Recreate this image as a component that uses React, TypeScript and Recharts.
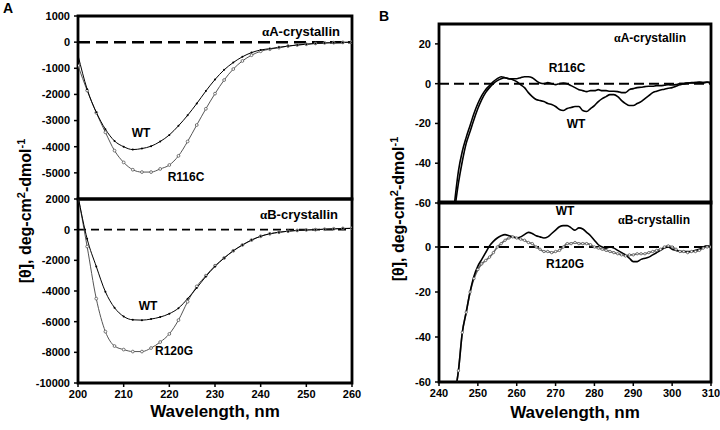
import React from "react";
import { LineChart, Line, XAxis, YAxis, ReferenceLine, ReferenceArea } from "recharts";

// Panel A: far-UV CD, 200-260 nm
const wlA = [200, 202, 204, 206, 208, 210, 212, 214, 216, 218, 220, 222, 224, 226, 228, 230, 232, 234, 236, 238, 240, 242, 244, 246, 248, 250, 252, 254, 256, 258, 260];
const aA_WT = [-500, -1800, -2680, -3330, -3780, -4000, -4110, -4070, -3980, -3800, -3550, -3200, -2800, -2350, -1870, -1430, -1060, -780, -560, -400, -300, -250, -200, -150, -110, -80, -50, -30, -20, -10, 0];
const aA_R116C = [-900, -1850, -2700, -3450, -4150, -4600, -4880, -4970, -4970, -4850, -4700, -4350, -3800, -3170, -2550, -1970, -1450, -1030, -720, -500, -350, -270, -210, -150, -110, -80, -50, -30, -20, -10, 0];
const aB_WT = [2200, -600, -2400, -4050, -5090, -5660, -5880, -5900, -5830, -5700, -5480, -5120, -4500, -3800, -3050, -2400, -1850, -1380, -1000, -680, -430, -270, -170, -100, -50, -20, 0, 30, 50, 70, 80];
const aB_R120G = [2200, -1100, -4500, -6650, -7590, -7820, -7950, -7950, -7720, -7330, -6800, -5900, -4700, -3700, -3000, -2350, -1850, -1380, -1000, -680, -430, -270, -170, -100, -50, -20, 0, 30, 60, 80, 100];

// Panel B: near-UV CD, 244-310 nm
const wlB = [244, 245, 246, 247, 248, 249, 250, 251, 252, 253, 254, 255, 256, 257, 258, 259, 260, 261, 262, 263, 264, 265, 266, 267, 268, 269, 270, 271, 272, 273, 274, 275, 276, 277, 278, 279, 280, 281, 282, 283, 284, 285, 286, 287, 288, 289, 290, 291, 292, 293, 294, 295, 296, 297, 298, 299, 300, 301, 302, 303, 304, 305, 306, 307, 308, 309, 310];
const nA_WT = [-60, -44, -34, -27, -21, -15, -10, -6, -3, -1, 1, 2.5, 3.5, 3, 2.5, 2, 1, -0.5, -2, -4.5, -6.5, -8, -8.5, -9, -10, -10.5, -11.5, -13, -13.5, -12.5, -12, -11.5, -11.5, -13.5, -14, -12.5, -11, -9, -7.5, -6.5, -5.5, -5.5, -6.5, -8.5, -10, -11, -11, -10, -9, -7.5, -6, -4.5, -3.8, -3.2, -2.8, -2.3, -2, -1.3, -0.6, 0, 0.3, 0.5, 0.5, 0.8, 0.5, 0.8, 0.5];
const nA_R116C = [-64, -50, -39, -30, -24, -18, -12.5, -8, -4.5, -2, 0, 1.5, 2.5, 3, 2.5, 2.5, 2.5, 3, 3.5, 3.5, 3, 1.5, 0.3, 0, 0.5, 0, -0.5, 0, 0.3, 0, -1, -2, -3, -3.5, -4, -3.5, -3.5, -3, -3.5, -3.5, -3.8, -3.8, -4, -4.5, -4.5, -3, -2.5, -2, -1.8, -1.5, -1.3, -1.3, -1, -1, -0.8, -0.5, -0.7, -0.5, 0, 0, 0.3, 0.3, 0.5, 0.5, 0.5, 0.7, 0.5];
const nB_WT = [-66, -55, -38, -29, -20, -13, -8.5, -5.5, -2.5, 0.5, 2.5, 4, 5, 5.5, 5, 4.5, 4, 4.5, 5.5, 6.5, 6, 5, 4.5, 4, 4.5, 6, 7.5, 9, 9.5, 9.5, 8.5, 7.5, 8.5, 8, 6.5, 5, 3, 1, 0, -0.5, 0, -0.5, -1.5, -2.5, -3.5, -5, -6.5, -6.5, -5.5, -5, -4.5, -3.5, -2.5, -1.5, -0.5, 0, -1, -1.5, -2, -2, -2, -2, -1.5, -1, 0, 0.5, 0];
const nB_R120G = [-66, -55, -38, -29, -20, -14, -10, -7.5, -6, -4.5, -2.5, 0, 1.5, 3, 4, 4.5, 4, 3.5, 3, 2, 1.5, 0, -1, -2, -2, -2.5, -2, -1.5, 0, 1.5, 1.5, 2, 1.5, 1.5, 1.5, 1, 0, -0.5, -1, -1.5, -2, -2.5, -3, -3.5, -4, -3.5, -3.5, -3, -3, -3, -2.5, -2, -1.5, -1, 0, 0.5, 0, -1, -2, -2, -2.5, -2, -2, -1.5, -0.5, 0, 0];

const ticksXA = [200, 210, 220, 230, 240, 250, 260];
const ticksXB = [240, 250, 260, 270, 280, 290, 300, 310];
const ticksA1 = [-5000, -4000, -3000, -2000, -1000, 0, 1000];
const ticksA2 = [-10000, -8000, -6000, -4000, -2000, 0, 2000];
const ticksB1 = [-60, -40, -20, 0, 20];
const ticksB2 = [-60, -40, -20, 0];

const FONT = "'Liberation Sans', Arial, sans-serif";
const tickStyle = { fill: "#000", fontSize: 11, fontWeight: 700, fontFamily: FONT };

const dataA1 = wlA.map((w, i) => ({ w, wt: aA_WT[i], mut: aA_R116C[i] }));
const dataA2 = wlA.map((w, i) => ({ w, wt: aB_WT[i], mut: aB_R120G[i] }));
const dataB1 = wlB.map((w, i) => ({ w, wt: nA_WT[i], mut: nA_R116C[i] }));
const dataB2 = wlB.map((w, i) => ({ w, wt: nB_WT[i], mut: nB_R120G[i] }));

type SubProps = {
  data: { w: number; wt: number; mut: number }[];
  xDomain: [number, number];
  yDomain: [number, number];
  xTicks: number[];
  yTicks: number[];
  showX: boolean;
  width: number;
  height: number;
  margin: { top: number; right: number; bottom: number; left: number };
  dash: string;
  dashWidth: number;
  farUV: boolean;
  mutDots: boolean;
};

function SubPlot(p: SubProps) {
  return (
    <LineChart width={p.width} height={p.height} data={p.data} margin={p.margin}>
      <XAxis
        dataKey="w"
        type="number"
        domain={p.xDomain}
        ticks={p.xTicks}
        allowDataOverflow
        hide={!p.showX}
        height={30}
        axisLine={false}
        tickLine={{ stroke: "#000", strokeWidth: 1.5 }}
        tickSize={4}
        tickMargin={3}
        tick={tickStyle}
        interval={0}
      />
      <YAxis
        type="number"
        domain={p.yDomain}
        ticks={p.yTicks}
        allowDataOverflow
        width={78}
        axisLine={false}
        tickLine={{ stroke: "#000", strokeWidth: 1.5 }}
        tickSize={4}
        tickMargin={4}
        tick={tickStyle}
        interval={0}
      />
      <ReferenceLine y={0} stroke="#000" strokeWidth={p.dashWidth} strokeDasharray={p.dash} />
      <Line
        dataKey="mut"
        type="monotone"
        stroke={p.farUV ? "#555" : p.mutDots ? "#666" : "#000"}
        strokeWidth={p.farUV ? 1 : 1.6}
        dot={p.mutDots ? { r: p.farUV ? 1.4 : 1.2, fill: "#fff", stroke: "#555", strokeWidth: 0.8 } : false}
        isAnimationActive={false}
      />
      <Line
        dataKey="wt"
        type="monotone"
        stroke="#000"
        strokeWidth={p.farUV ? 1 : 1.6}
        dot={p.farUV ? { r: 1, fill: "#000", stroke: "none" } : false}
        isAnimationActive={false}
      />
      <ReferenceArea
        x1={p.xDomain[0]}
        x2={p.xDomain[1]}
        y1={p.yDomain[0]}
        y2={p.yDomain[1]}
        fill="none"
        fillOpacity={0}
        stroke="#000"
        strokeWidth={2.8}
        ifOverflow="visible"
      />
    </LineChart>
  );
}

function Note({ x, y, size = 12, children }: { x: number; y: number; size?: number; children: React.ReactNode }) {
  return (
    <div
      style={{
        position: "absolute",
        left: x,
        top: y,
        transform: "translate(-50%, -50%)",
        fontSize: size,
        fontWeight: 700,
        whiteSpace: "nowrap",
        lineHeight: 1,
      }}
    >
      {children}
    </div>
  );
}

const alpha = <span style={{ fontFamily: "'Liberation Serif', serif" }}>α</span>;

function YLabel({ x, y }: { x: number; y: number }) {
  return (
    <div
      style={{
        position: "absolute",
        left: x,
        top: y,
        transform: "translate(-50%, -50%) rotate(-90deg)",
        fontSize: 16,
        fontWeight: 700,
        whiteSpace: "nowrap",
        lineHeight: 1,
      }}
    >
      [θ], deg-cm<sup style={{ fontSize: 11 }}>2</sup>-dmol<sup style={{ fontSize: 11 }}>-1</sup>
    </div>
  );
}

export default function App() {
  const box = (left: number, top: number): React.CSSProperties => ({ position: "absolute", left, top });
  return (
    <div
      style={{
        position: "absolute",
        left: 0,
        top: 0,
        width: 720,
        height: 430,
        overflow: "hidden",
        background: "#fff",
        color: "#000",
        fontFamily: FONT,
      }}
    >
      <div style={box(0, 0)}>
        <SubPlot data={dataA1} xDomain={[200, 260]} yDomain={[-6000, 1000]} xTicks={ticksXA} yTicks={ticksA1}
          showX={false} width={362} height={209} margin={{ top: 16, right: 10, bottom: 10, left: 0 }}
          dash="12 6" dashWidth={2.5} farUV mutDots />
      </div>
      <div style={box(0, 189)}>
        <SubPlot data={dataA2} xDomain={[200, 260]} yDomain={[-10000, 2000]} xTicks={ticksXA} yTicks={ticksA2}
          showX width={362} height={224} margin={{ top: 10, right: 10, bottom: 0, left: 0 }}
          dash="8 5" dashWidth={1.6} farUV mutDots />
      </div>
      <div style={box(361, 14)}>
        <SubPlot data={dataB1} xDomain={[240, 310]} yDomain={[-60, 30]} xTicks={ticksXB} yTicks={ticksB1}
          showX={false} width={359} height={199} margin={{ top: 10, right: 9, bottom: 10, left: 0 }}
          dash="10 5" dashWidth={2} farUV={false} mutDots={false} />
      </div>
      <div style={box(361, 192)}>
        <SubPlot data={dataB2} xDomain={[240, 310]} yDomain={[-60, 20]} xTicks={ticksXB} yTicks={ticksB2}
          showX width={359} height={220} margin={{ top: 10, right: 9, bottom: 0, left: 0 }}
          dash="10 5" dashWidth={2} farUV={false} mutDots />
      </div>

      <Note x={8} y={8} size={14}>A</Note>
      <Note x={384} y={16} size={14}>B</Note>

      <YLabel x={25} y={211} />
      <YLabel x={398} y={209} />

      <Note x={215} y={411} size={17}>Wavelength, nm</Note>
      <Note x={575} y={412} size={17}>Wavelength, nm</Note>

      <Note x={301} y={31} size={13}>{alpha}A-crystallin</Note>
      <Note x={299} y={214} size={13}>{alpha}B-crystallin</Note>
      <Note x={141} y={133}>WT</Note>
      <Note x={186} y={177}>R116C</Note>
      <Note x={148} y={306}>WT</Note>
      <Note x={174} y={351}>R120G</Note>

      <Note x={650} y={38}>{alpha}A-crystallin</Note>
      <Note x={654} y={220}>{alpha}B-crystallin</Note>
      <Note x={567} y={68}>R116C</Note>
      <Note x={576} y={124}>WT</Note>
      <Note x={565} y={211}>WT</Note>
      <Note x={565} y={264}>R120G</Note>
    </div>
  );
}
